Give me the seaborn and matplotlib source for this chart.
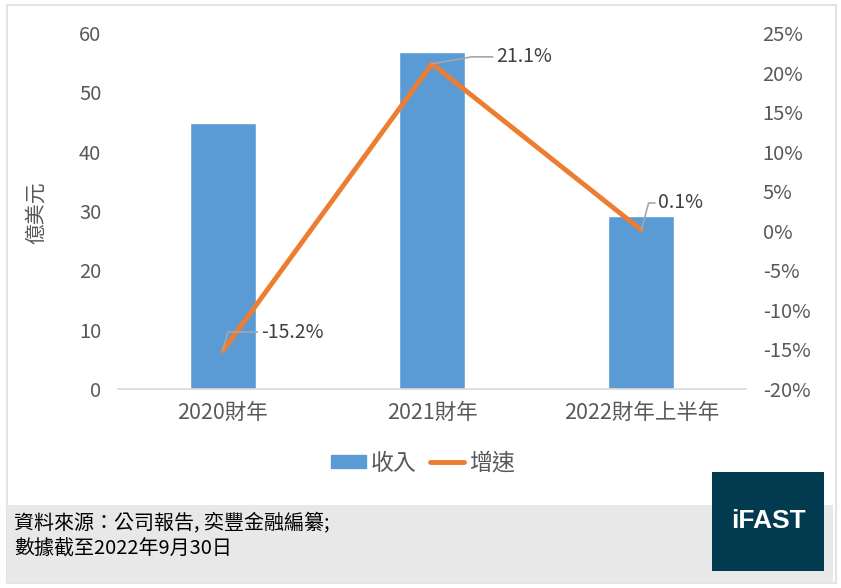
import matplotlib.pyplot as plt
import matplotlib.patches as mpatches
import matplotlib.lines as mlines
import pandas as pd
import seaborn as sns

categories = ["2020財年", "2021財年", "2022財年上半年"]
revenue = [44.8, 56.8, 29.2]
growth = [-15.2, 21.1, 0.1]
growth_labels = ["-15.2%", "21.1%", "0.1%"]
left_ticks = [0, 10, 20, 30, 40, 50, 60]
right_ticks = [-20, -15, -10, -5, 0, 5, 10, 15, 20, 25]

sns.set_theme(style="white")
plt.rcParams['font.family'] = ['Noto Sans CJK TC', 'DejaVu Sans']

df = pd.DataFrame({"cat": categories, "revenue": revenue, "growth": growth})
df["x"] = range(len(df))

bar_color = "#5b9bd5"
line_color = "#ed7d31"
text_color = "#595959"

fig = plt.figure(figsize=(8.41, 5.88), dpi=100)

# outer frame
fig.patches.append(mpatches.Rectangle((7 / 841, 1 - 583 / 588), 829 / 841, 578 / 588,
                                      transform=fig.transFigure, fill=False,
                                      edgecolor="#e3e3e3", lw=1.5, zorder=0))
# footer band
fig.patches.append(mpatches.Rectangle((7 / 841, 1 - 583 / 588), 826 / 841, 78 / 588,
                                      transform=fig.transFigure, facecolor="#e8e8e8",
                                      edgecolor="none", zorder=0))
# logo box
fig.patches.append(mpatches.Rectangle((712 / 841, 1 - 571 / 588), 112 / 841, 99 / 588,
                                      transform=fig.transFigure, facecolor="#023a4f",
                                      edgecolor="none", zorder=2))
fig.text(768 / 841, 1 - 521 / 588, "iFAST", color="white", fontsize=19,
         fontweight="bold", family=["Liberation Sans", "DejaVu Sans"],
         ha="center", va="center", zorder=3)

ax = fig.add_axes([118 / 841, 1 - 389 / 588, 628 / 841, 356 / 588])
sns.barplot(data=df, x="cat", y="revenue", color=bar_color, width=0.315,
            saturation=1, ax=ax, zorder=2)
ax.set_xlim(-0.5, 2.5)
ax.set_ylim(0, 60)
ax.set_yticks(left_ticks)
ax.set_xlabel("")
ax.set_ylabel("億美元", color=text_color, fontsize=15)
ax.yaxis.set_label_coords(-0.113, 0.495)
for s in ["top", "right", "left"]:
    ax.spines[s].set_visible(False)
ax.spines["bottom"].set_color("#d9d9d9")
ax.spines["bottom"].set_linewidth(1.2)
ax.tick_params(axis="both", length=0, colors=text_color, labelsize=14.5)
ax.tick_params(axis="y", pad=12)
ax.tick_params(axis="x", pad=9, labelsize=15.5)

ax2 = ax.twinx()
sns.lineplot(data=df, x="x", y="growth", color=line_color, lw=3.5, ax=ax2,
             zorder=3)
ax2.set_ylim(-20, 25)
ax2.set_yticks(right_ticks)
ax2.set_yticklabels([f"{t}%" for t in right_ticks])
ax2.set_ylabel("")
for s in ["top", "right", "left", "bottom"]:
    ax2.spines[s].set_visible(False)
ax2.tick_params(axis="y", length=0, colors=text_color, labelsize=14.5, pad=12)

# data labels with leader lines
offsets = [(24, 19), (50, 7), (3, 27)]
for i, (g, lab) in enumerate(zip(growth, growth_labels)):
    dx, dy = offsets[i]
    ax2.annotate(lab, xy=(i, g), xytext=(dx + 14, dy), textcoords="offset pixels",
                 fontsize=14, color="#404040", va="center", ha="left",
                 arrowprops=dict(arrowstyle="-", color="#a6a6a6", lw=1.2,
                                 shrinkA=0, shrinkB=0,
                                 connectionstyle="angle,angleA=0,angleB=%d,rad=0" % (75 if i != 1 else 10)))

handles = [mpatches.Patch(color=bar_color, label="收入"),
           mlines.Line2D([], [], color=line_color, lw=3.5, label="增速")]
fig.legend(handles=handles, loc="center", bbox_to_anchor=(423 / 841, 1 - 463 / 588),
           ncol=2, frameon=False, fontsize=16.5, labelcolor=text_color,
           handlelength=1.5, handleheight=0.5, handletextpad=0.2, columnspacing=0.6)

fig.text(14 / 841, 1 - 523 / 588, "資料來源：公司報告, 奕豐金融編纂;", fontsize=14.4,
         color="black", va="center", ha="left")
fig.text(14 / 841, 1 - 549 / 588, "數據截至2022年9月30日", fontsize=14.4,
         color="black", va="center", ha="left")

fig.savefig("out.png", dpi=100)
